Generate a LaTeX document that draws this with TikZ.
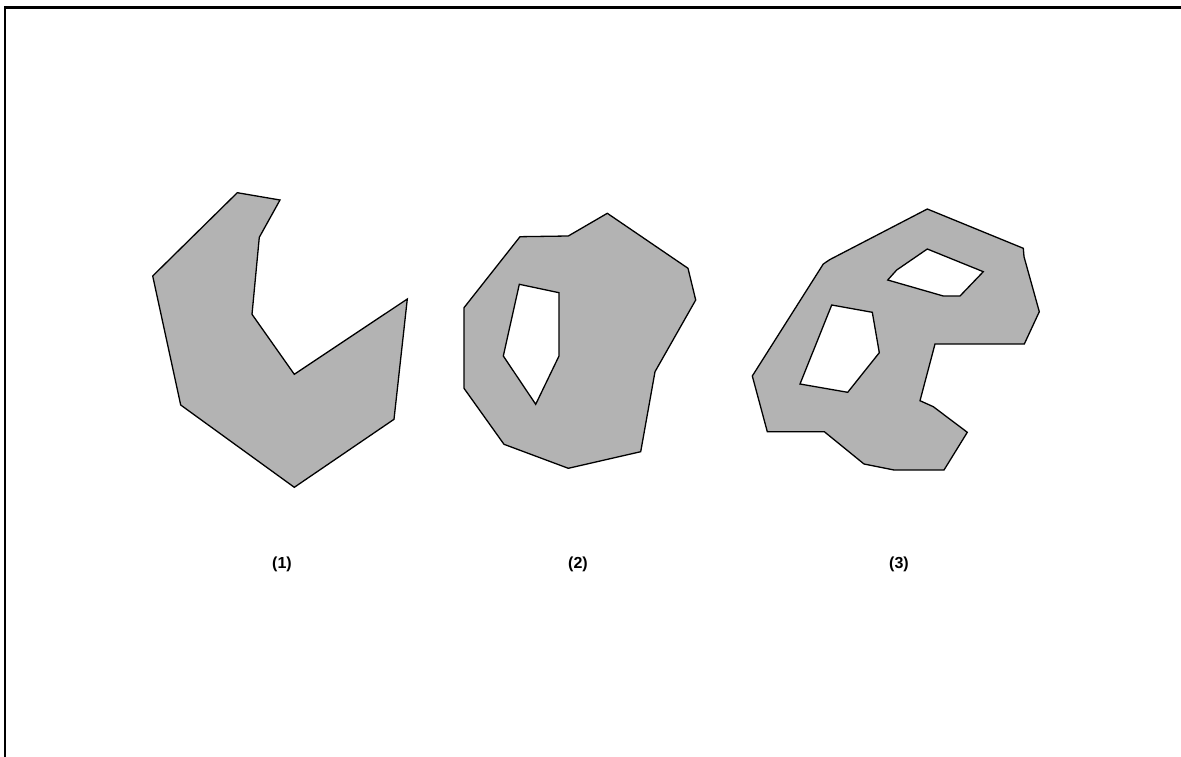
\documentclass[tikz,border=0pt]{standalone}
\usepackage{fontspec}
\setmainfont{Liberation Sans}
\definecolor{shapegray}{RGB}{179,179,179}
\begin{document}
\begin{tikzpicture}[x=1pt,y=-1pt,
  region/.style={fill=shapegray,draw=black,line width=1.3pt,line join=miter},
  hole/.style={fill=white,draw=black,line width=1.3pt,line join=miter},
  caption/.style={font=\bfseries\fontsize{16}{19}\selectfont,inner sep=0pt}]
\useasboundingbox (0,0) rectangle (1181,757);
% frame (top and left edges)
\draw[line width=2.2pt] (5,757) -- (5,7.5) -- (1181,7.5);
% shape 1
\draw[region] (237.3,192.7) -- (280,200) -- (259.3,237.3) -- (252,314.3) -- (294.3,374.3)
  -- (407.3,299) -- (394,419.3) -- (294.3,487.3) -- (180.7,405) -- (152.7,276) -- cycle;
% shape 2
\draw[region] (607.3,213.3) -- (688,268.3) -- (695.7,300) -- (655,371.7) -- (640.7,451.7)
  -- (568.3,468.3) -- (504,444.3) -- (464,388.3) -- (464,307.7) -- (520,236.7) -- (568.3,236) -- cycle;
\draw[hole] (519.3,284.3) -- (559,292.7) -- (559,356) -- (535.7,404.3) -- (503.3,356) -- cycle;
% shape 3
\draw[region] (927.3,209) -- (1023.3,248.3) -- (1024,256.7) -- (1039.3,311.7) -- (1024.3,344)
  -- (935,344) -- (920,400.7) -- (933.3,406.7) -- (967.3,432.3) -- (944,470) -- (894,470)
  -- (864,464) -- (824.3,431.7) -- (767.3,431.7) -- (752.3,376) -- (823.3,264) -- (830,259.5) -- cycle;
\draw[hole] (927.3,249) -- (983.3,271.7) -- (960,296) -- (943.3,296) -- (887.7,280) -- (896.7,270) -- cycle;
\draw[hole] (831.7,305) -- (872.3,312.3) -- (879.3,352.7) -- (847.7,392.3) -- (800,384) -- cycle;
% captions
\node[caption] (c1) at (282,564) {(1)};
\node[caption] (c2) at (578,564) {(2)};
\node[caption] (c3) at (899,564) {(3)};
\end{tikzpicture}
\end{document}
